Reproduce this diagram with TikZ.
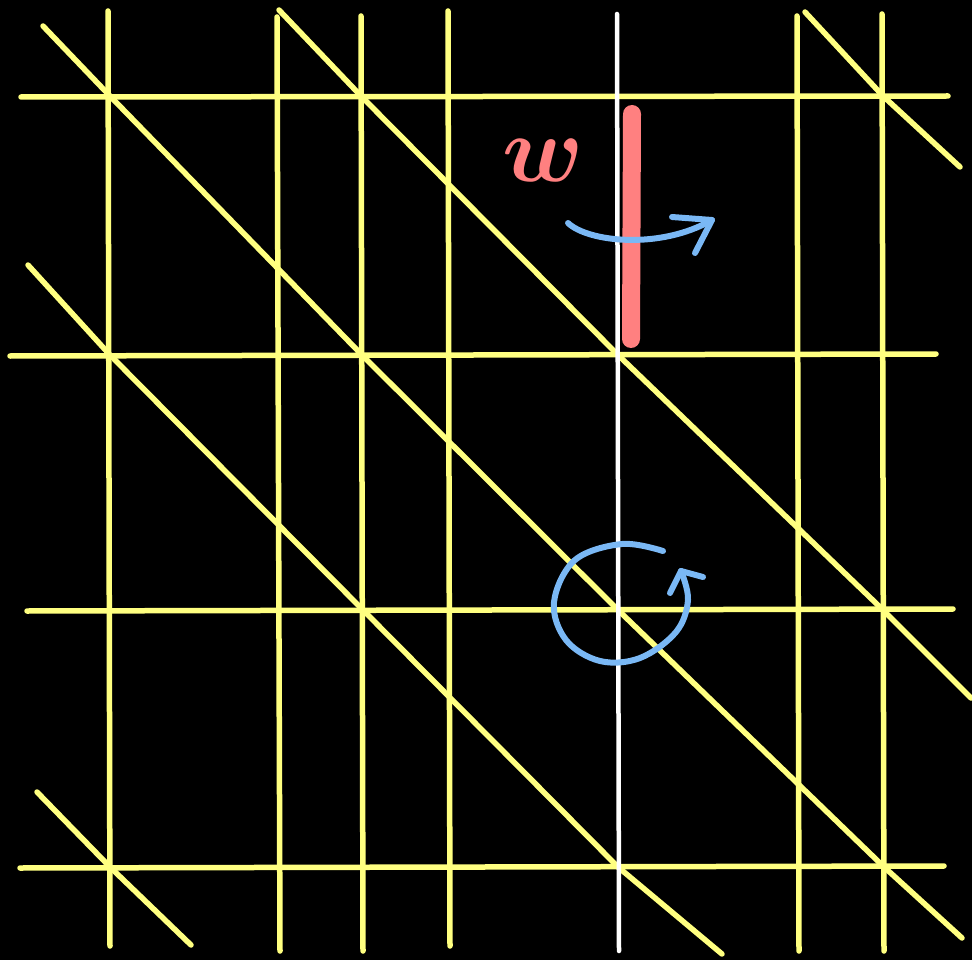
\documentclass[tikz,border=0pt]{standalone}
\usepackage{bm}
\definecolor{ylw}{RGB}{255,255,128}
\definecolor{rd}{RGB}{255,128,128}
\definecolor{bl}{RGB}{122,184,245}
\begin{document}
\begin{tikzpicture}[x=1pt,y=-1pt,
  yline/.style={draw=ylw,line width=5.5pt,line cap=round},
  wline/.style={draw=white,line width=4.5pt,line cap=round},
  rbar/.style={draw=rd,line width=18pt,line cap=round},
  barrow/.style={draw=bl,line width=6pt,line cap=round,line join=round}]
\fill[black] (0,0) rectangle (972,960);
\useasboundingbox (0,0) rectangle (972,960);
% vertical lines
\draw[yline] (108,11) -- (110,946);
\draw[yline] (277,17) -- (280,951);
\draw[yline] (361,16) -- (363,951);
\draw[yline] (448,11) -- (450,946);
\draw[yline] (797,16) -- (799,951);
\draw[yline] (882,14) -- (884,951);
% horizontal lines
\draw[yline] (21,97) -- (948,96);
\draw[yline] (10,356) -- (936,354);
\draw[yline] (27,611) -- (953,609);
\draw[yline] (20,868) -- (944,866);
% diagonals
\draw[yline] (43,26) -- (109,95) -- (362,355) -- (617,609) -- (883,866) -- (962,938);
\draw[yline] (279,10) -- (361,96) -- (617,354) -- (882,609) -- (971,698);
\draw[yline] (28,265) -- (110,355) -- (362,609) -- (618,867) -- (722,954);
\draw[yline] (37,792) -- (110,867) -- (191,945);
\draw[yline] (805,12) -- (883,96) -- (960,167);
% white line
\draw[wline] (617,14) -- (619,951);
% red bar
\draw[rbar] (632,114) -- (631,339);
\node[text=rd,inner sep=0pt,scale=3.8,font=\Huge] (w) at (543,160) {$\bm{w}$};
% blue arrows
\draw[barrow] (568,223) .. controls (588,242) and (660,250) .. (712,220);
\draw[barrow] (672,217) -- (712,220) -- (695,253);
\draw[barrow] plot[smooth,tension=0.6] coordinates {(663,551) (622,544) (575,560) (554,602) (566,640) (600,661) (640,658) (676,632) (688,600) (681,571)};
\draw[barrow] (670,593) -- (681,571) -- (703,577);
\end{tikzpicture}
\end{document}
